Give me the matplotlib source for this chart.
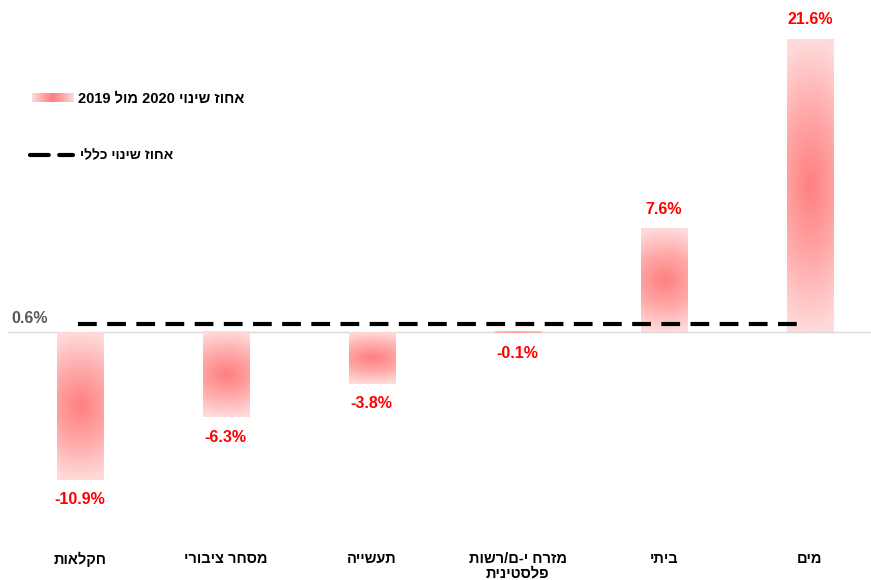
import numpy as np
import matplotlib
matplotlib.use("Agg")
import matplotlib.pyplot as plt
import matplotlib.colors as cls
from matplotlib.lines import Line2D
import re

plt.rcParams['font.family'] = ['Liberation Sans', 'DejaVu Sans']

# dados
categorias = ["חקלאות", "מסחר ציבורי", "תעשייה", "מזרח י-ם/רשות\nפלסטינית", "ביתי", "מים"]
valores = [-10.9, -6.3, -3.8, -0.1, 7.6, 21.6]
total = 0.6
legenda_barras = "אחוז שינוי 2020 מול 2019"
legenda_linha = "אחוז שינוי כללי"


def rtl(txt):
	# inverte o texto hebraico (matplotlib nao faz bidi)
	linhas = []
	for lin in txt.split("\n"):
		inv = lin[::-1]
		inv = re.sub(r"[0-9.%]+", lambda m: m.group(0)[::-1], inv)
		linhas.append(inv)
	return "\n".join(linhas)


cmap = cls.LinearSegmentedColormap.from_list("grad", ["#ff7f7f", "#ffa8a8", "#ffdada"])

fig = plt.figure(figsize = (8.71, 5.80), dpi = 100)
ax = fig.add_axes([0, 0, 1, 1])
ax.set_xlim(-0.545, 5.418)
ax.set_ylim(-18.29, 24.48)
ax.axis("off")

largura = 0.315
ny, nx = 200, 60
gy, gx = np.mgrid[-1:1:ny * 1j, -1:1:nx * 1j]
r = np.clip(np.sqrt(gy ** 2 + (0.4 * gx) ** 2), 0, 1)

for i, v in enumerate(valores):
	x0, x1 = i - largura / 2, i + largura / 2
	y0, y1 = min(0, v), max(0, v)
	ax.imshow(r, cmap = cmap, vmin = 0, vmax = 1, extent = (x0, x1, y0, y1),
			aspect = "auto", interpolation = "bilinear", zorder = 2)
	off = 14 if v >= 0 else -14.5
	ax.annotate(f"{v:.1f}%", (i, v), xytext = (0, off), textcoords = "offset points",
				ha = "center", va = "center", color = "#ff0000", fontsize = 11.5, fontweight = "bold")
	ax.text(i, -16.2, rtl(categorias[i]), ha = "center", va = "top", fontsize = 10.5,
			fontweight = "bold", color = "black", linespacing = 1.05)

ax.axhline(0, xmin = 8 / 871, xmax = 1, color = "#d9d9d9", linewidth = 1, zorder = 1)
ax.plot([-0.01, 4.93], [total, total], color = "black", linewidth = 3,
		dashes = (4.5, 2.5), zorder = 3)
ax.text(-0.47, total + 0.4, f"{total:.1f}%", ha = "left", va = "center",
		fontsize = 11.5, fontweight = "bold", color = "#595959")

# legenda
lg = fig.add_axes([32 / 871, 1 - 102 / 580, 41 / 871, 9 / 580])
gx2 = np.linspace(-1, 1, 100)[None, :]
lg.imshow(np.abs(gx2), cmap = cmap, vmin = 0, vmax = 1, aspect = "auto", interpolation = "bilinear")
lg.axis("off")
fig.text(78 / 871, 1 - 98 / 580, rtl(legenda_barras), ha = "left", va = "center",
		fontsize = 10.5, fontweight = "bold")
fig.add_artist(Line2D([30 / 871, 73 / 871], [1 - 155 / 580, 1 - 155 / 580],
			transform = fig.transFigure, color = "black", linewidth = 3,
			dashes = (4.5, 2.5), solid_capstyle = "round", dash_capstyle = "round"))
fig.text(80 / 871, 1 - 155 / 580, rtl(legenda_linha), ha = "left", va = "center",
		fontsize = 10, fontweight = "bold")

plt.savefig("out.png", dpi = 100)
